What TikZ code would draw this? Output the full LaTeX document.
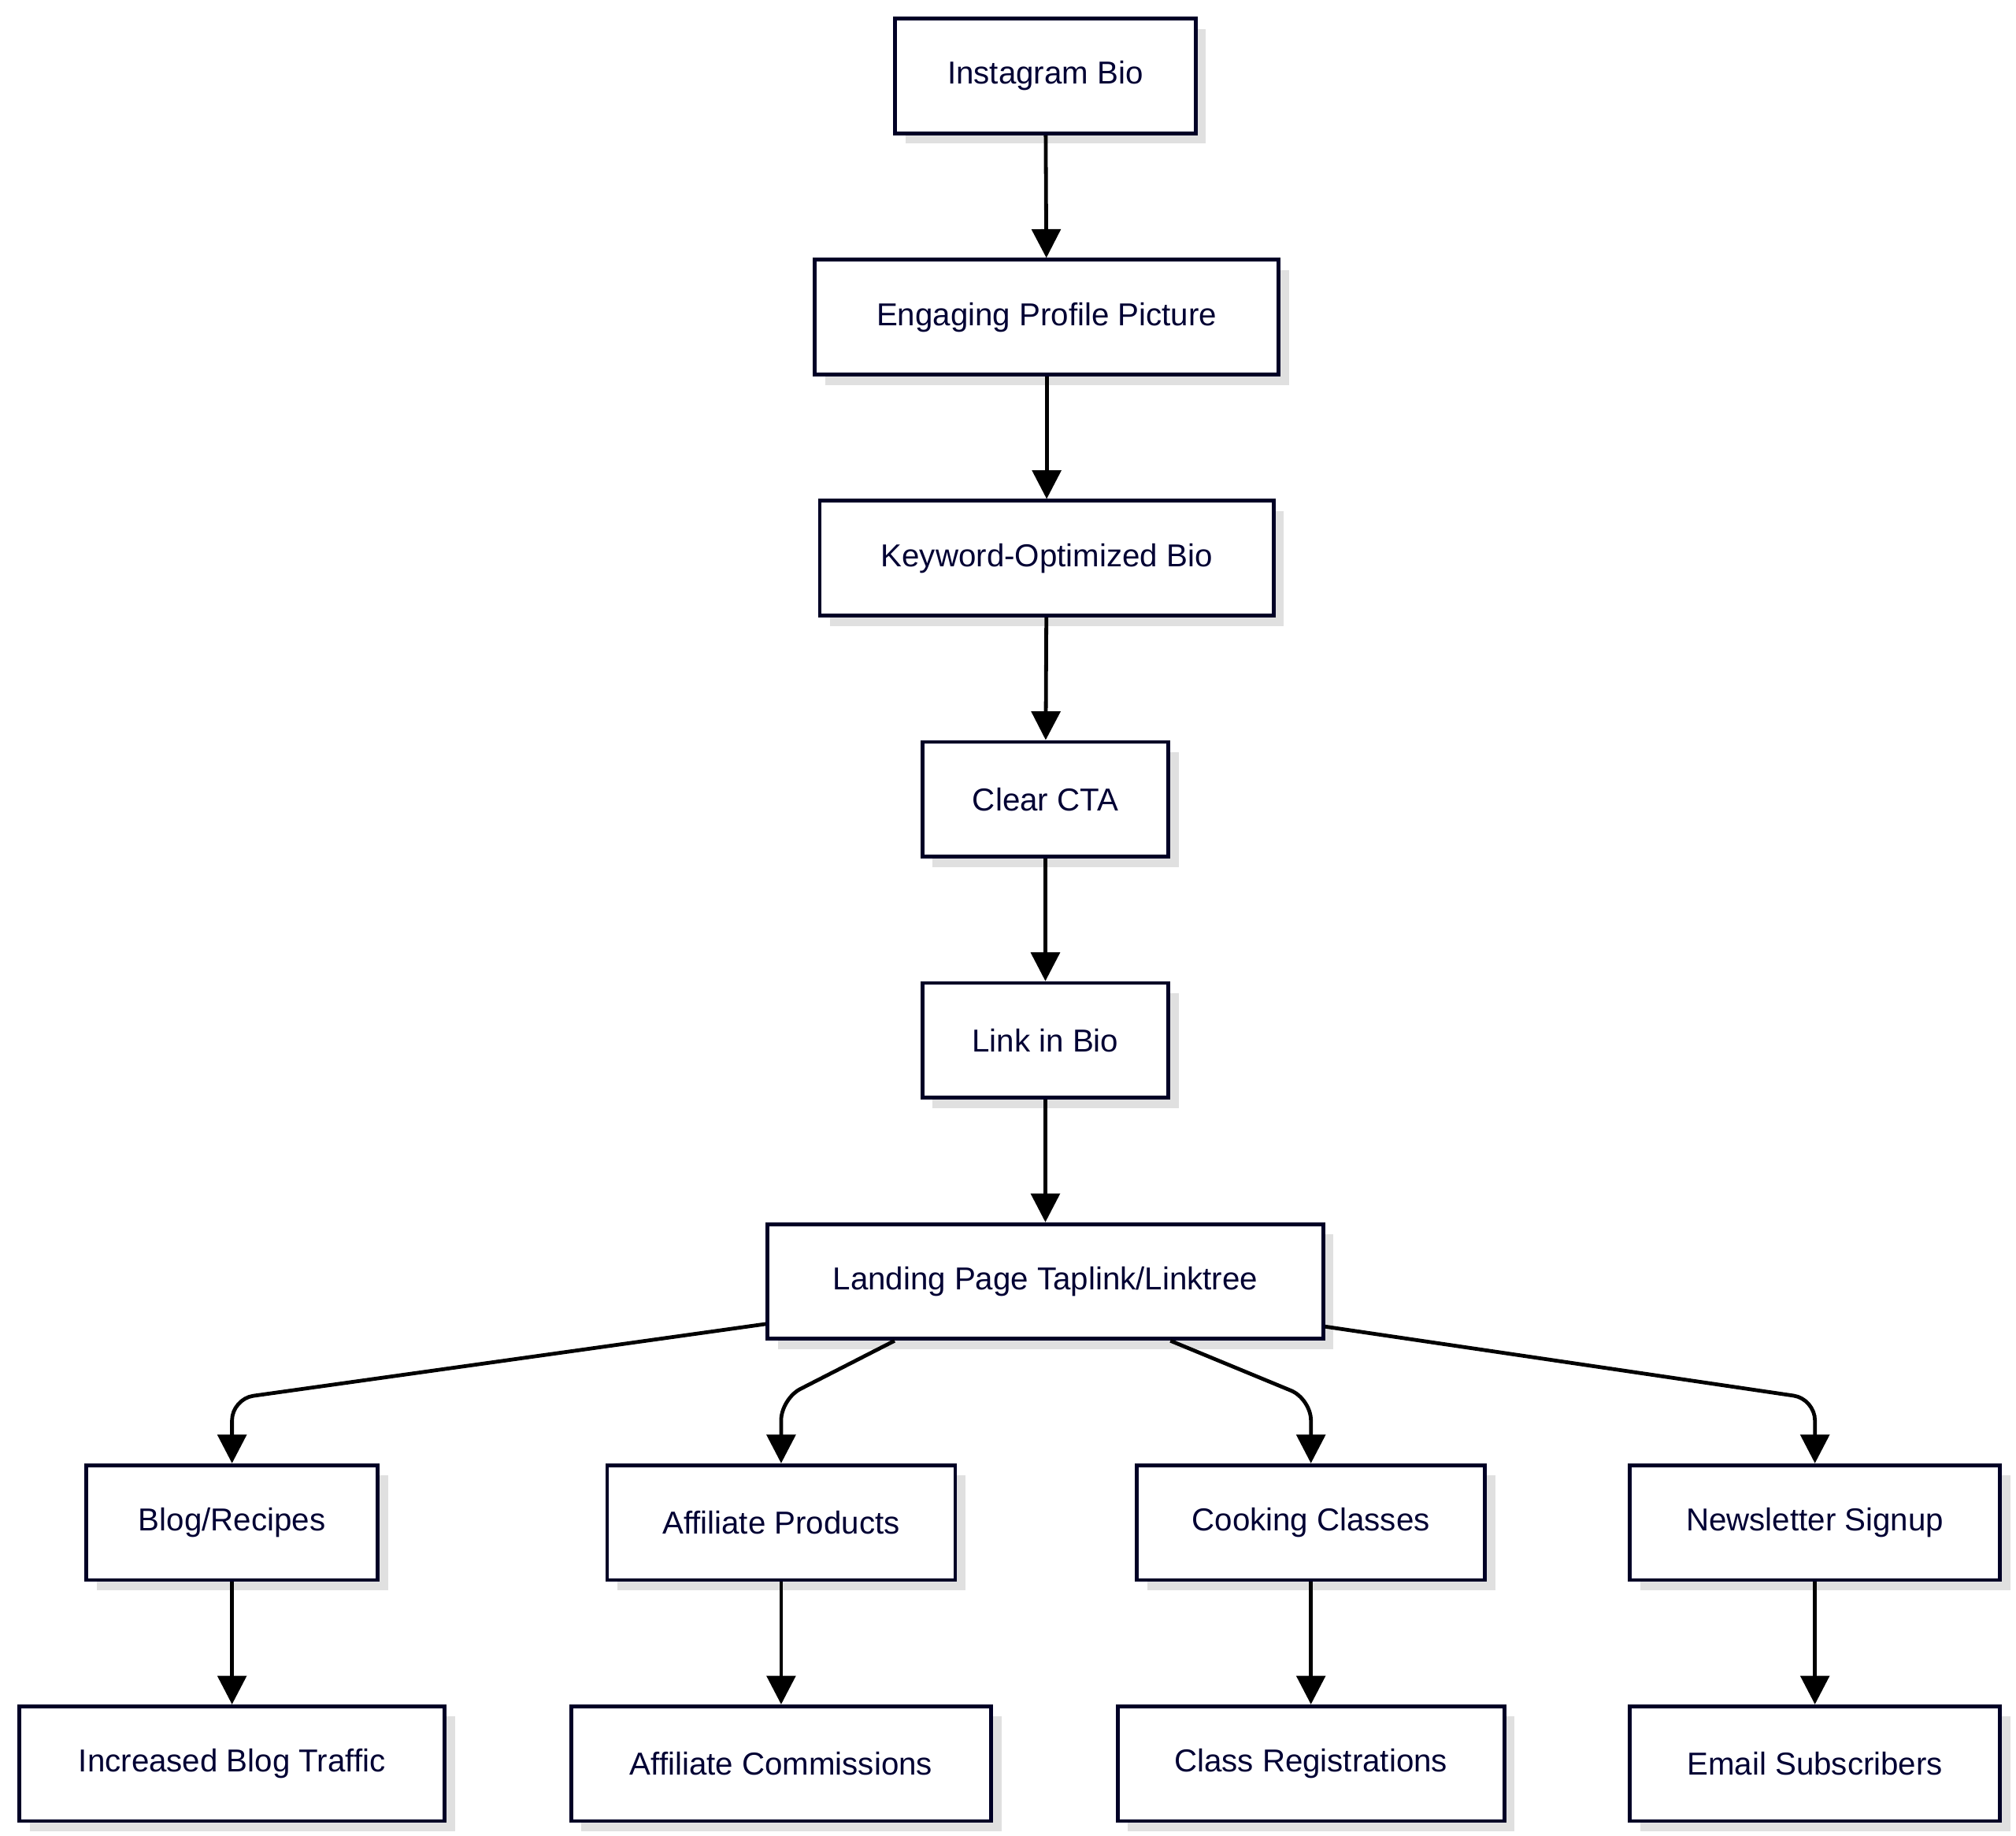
\documentclass[tikz,border=0pt]{standalone}
\usepackage{fontspec}
\setmainfont{Liberation Sans}
\usetikzlibrary{arrows.meta,shadows}

\begin{document}
\begin{tikzpicture}[x=0.03cm,y=0.03cm,
    box/.style={draw=black!85!blue, line width=2.5pt, fill=white, minimum height=2.67cm,
      font=\fontsize{21}{25}\selectfont, text=black!80!blue,
      drop shadow={shadow xshift=0.24cm, shadow yshift=-0.24cm, fill=black!12, opacity=1}},
    arr/.style={line width=2.5pt, -{Triangle[length=19pt,width=19pt]}, rounded corners=0.5cm}]
    \useasboundingbox (0,0) rectangle (1564,1424);
    % main column
    \node[box, minimum width=6.99cm] (insta) at (811,1365) {Instagram Bio};
    \node[box, minimum width=10.8cm] (pic) at (812,1178) {Engaging Profile Picture};
    \node[box, minimum width=10.56cm] (kw) at (812,991) {Keyword-Optimized Bio};
    \node[box, minimum width=5.73cm] (cta) at (811,804) {Clear CTA};
    \node[box, minimum width=5.73cm] (link) at (811,617) {Link in Bio};
    \node[box, minimum width=12.93cm] (land) at (811,430) {Landing Page Taplink/Linktree};
    % branches
    \node[box, minimum width=6.78cm] (blog) at (180,243) {Blog/Recipes};
    \node[box, minimum width=8.1cm] (aff) at (606,243) {Affiliate Products};
    \node[box, minimum width=8.1cm] (cook) at (1017,243) {Cooking Classes};
    \node[box, minimum width=8.61cm] (news) at (1408,243) {Newsletter Signup};
    % results
    \node[box, minimum width=9.9cm] (traffic) at (180,56) {Increased Blog Traffic};
    \node[box, minimum width=9.78cm] (comm) at (606,56) {Affiliate Commissions};
    \node[box, minimum width=9.0cm] (reg) at (1017,56) {Class Registrations};
    \node[box, minimum width=8.61cm] (subs) at (1408,56) {Email Subscribers};

    \draw[arr] (insta) -- (pic);
    \draw[arr] (pic) -- (kw);
    \draw[arr] (kw) -- (cta);
    \draw[arr] (cta) -- (link);
    \draw[arr] (link) -- (land);
    \draw[arr] (land.south west) ++(0,13) -- (180,339) -- (blog.north);
    \draw[arr] ([xshift=-3.51cm]land.south) -- (606,339) -- (aff.north);
    \draw[arr] ([xshift=2.91cm]land.south) -- (1017,339) -- (cook.north);
    \draw[arr] (land.south east) ++(0,11) -- (1408,339) -- (news.north);
    \draw[arr] (blog) -- (traffic);
    \draw[arr] (aff) -- (comm);
    \draw[arr] (cook) -- (reg);
    \draw[arr] (news) -- (subs);
\end{tikzpicture}
\end{document}
